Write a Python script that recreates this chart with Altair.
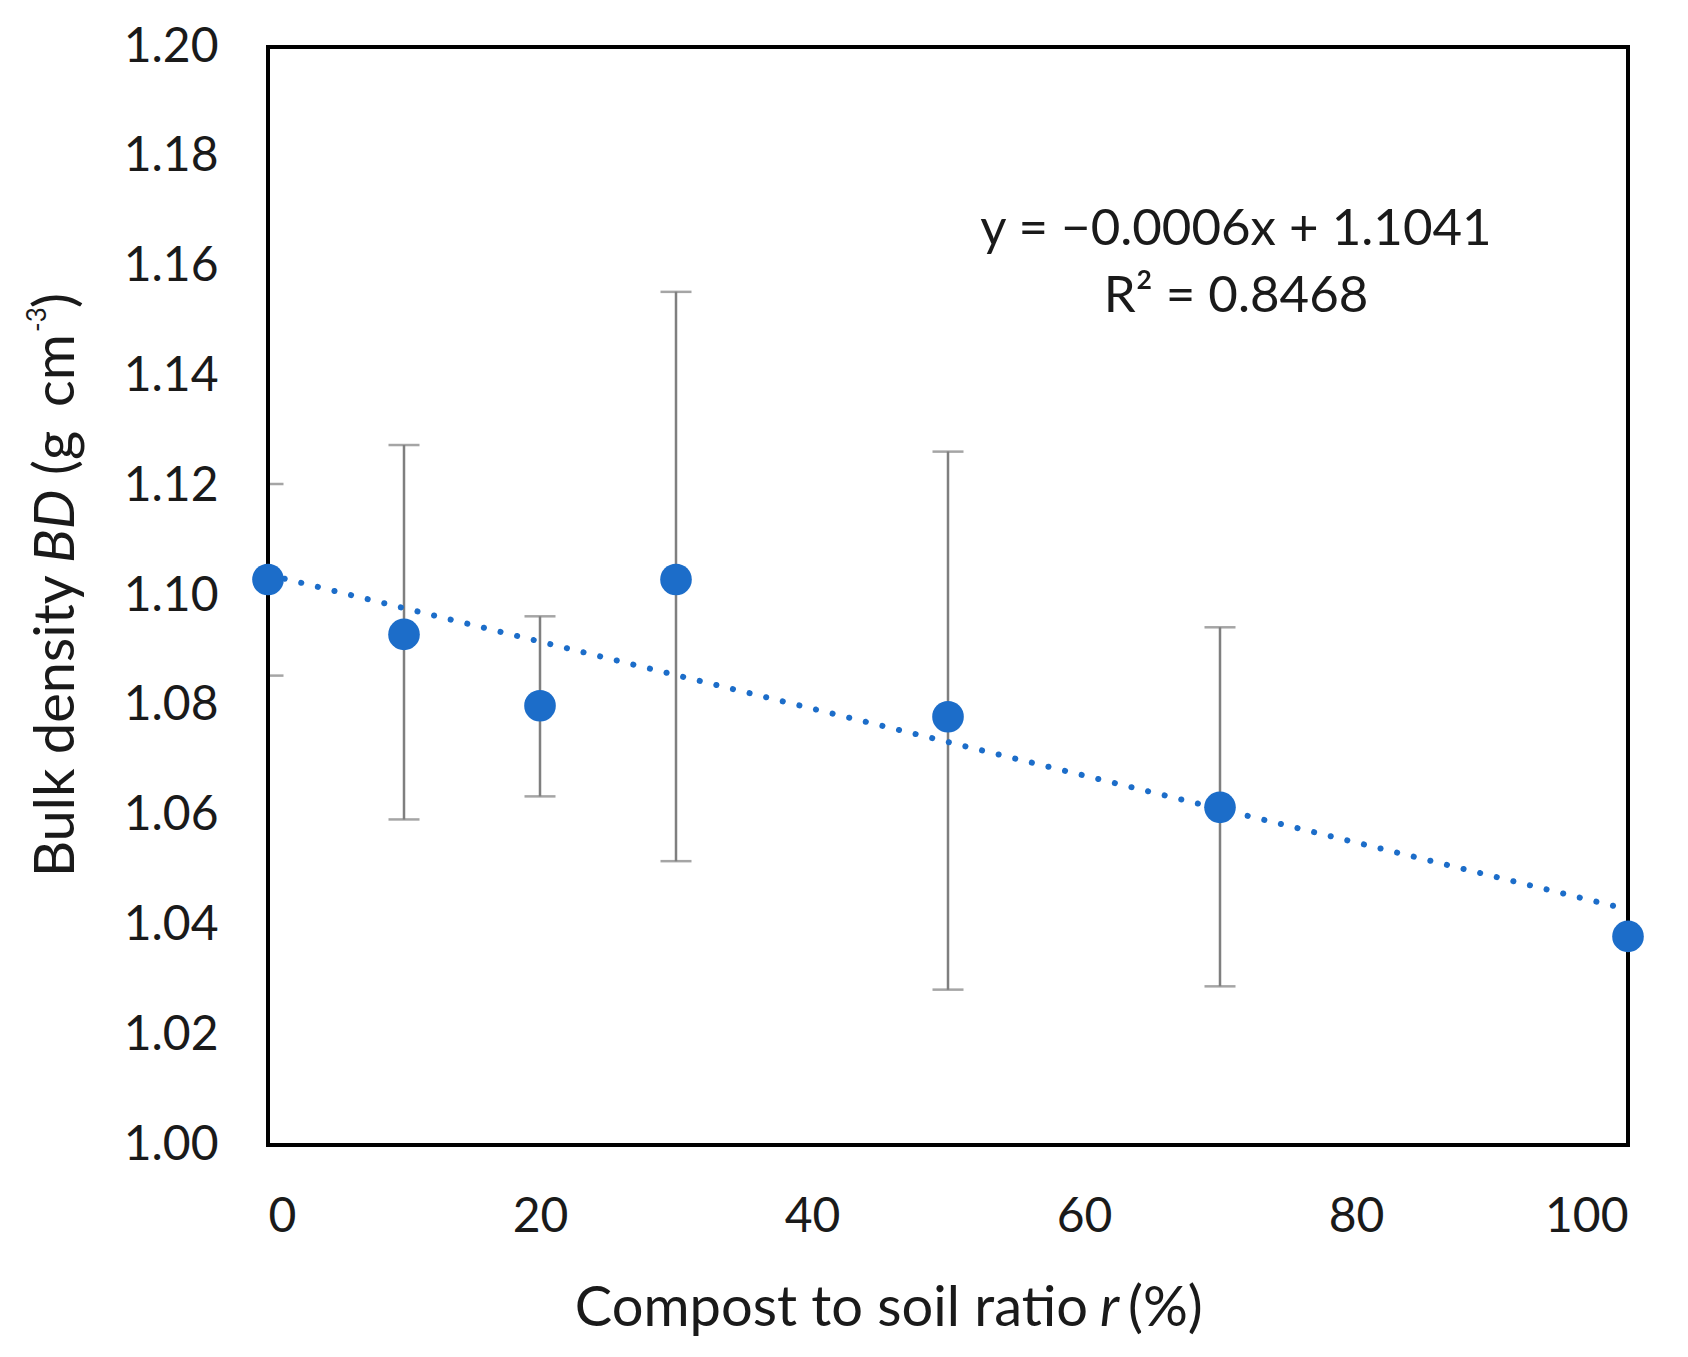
"""Bulk density vs compost-to-soil ratio, with error bars and a linear trend."""

import altair as alt
import pandas as pd

# values
ratio = [0, 10, 20, 30, 50, 70, 100]
bd = [1.103, 1.093, 1.080, 1.103, 1.078, 1.0615, 1.038]
bd_lo = [1.0855, 1.0593, 1.0635, 1.0517, 1.0283, 1.0289, 1.038]
bd_hi = [1.1204, 1.1275, 1.0963, 1.1554, 1.1263, 1.0943, 1.038]
x_ticks = [0, 20, 40, 60, 80, 100]
y_ticks = [1.00, 1.02, 1.04, 1.06, 1.08, 1.10, 1.12, 1.14, 1.16, 1.18, 1.20]

BLUE = "#1c6dc9"
GREY = "#7f7f7f"
FONT = "Lato"
W, H = 1360, 1098

df = pd.DataFrame({"ratio": ratio, "bd": bd, "lo": bd_lo, "hi": bd_hi})
err_df = df[df["hi"] > df["lo"]]

xs = alt.Scale(domain=[0, 100], nice=False)
ys = alt.Scale(domain=[1.0, 1.2], nice=False, zero=False)

x_enc = alt.X("ratio:Q", scale=xs, axis=alt.Axis(
    values=x_ticks, title=None, labelPadding=48, labelBaseline="top"))
y_enc = alt.Y("bd:Q", scale=ys, axis=alt.Axis(
    values=y_ticks, format=".2f", title=None, labelPadding=50))

errbars = alt.Chart(err_df).mark_errorbar(
    clip=True, color=GREY, size=31, thickness=2.5,
    ticks=True, rule=alt.MarkConfig(strokeWidth=2.5),
).encode(x=alt.X("ratio:Q", scale=xs), y=alt.Y("lo:Q", scale=ys), y2="hi:Q")

# left border drawn again so the clipped x=0 error bar sits under it
left_edge = alt.Chart(pd.DataFrame({"k": [0]})).mark_rule(
    color="black", strokeWidth=4).encode(
    x=alt.value(0), y=alt.value(0), y2=alt.value(H))

trend = alt.Chart(df).transform_regression(
    "ratio", "bd", extent=[0, 100]
).mark_line(color=BLUE, strokeWidth=6, strokeDash=[0.1, 17], strokeCap="round").encode(
    x=alt.X("ratio:Q", scale=xs), y=alt.Y("bd:Q", scale=ys))

points = alt.Chart(df).mark_circle(size=1000, color=BLUE, opacity=1).encode(
    x=x_enc, y=y_enc)


def label(text, x, y, size=51, style="normal", align="center", baseline="middle", angle=0):
    return alt.Chart(pd.DataFrame({"t": [text]})).mark_text(
        font=FONT, fontSize=size, fontStyle=style, align=align, baseline=baseline,
        angle=angle, color="#1a1a1a",
    ).encode(text="t:N", x=alt.value(x), y=alt.value(y))


equation = label("y = \u22120.0006x + 1.1041", 968, 183) + label("R\u00b2 = 0.8468", 968, 250)

# x title: "Compost to soil ratio r (%)" with italic r
x_title = (
    label("Compost to soil ratio", 820, 1279, size=56, align="right", baseline="alphabetic")
    + label("r", 832, 1279, size=56, style="italic", align="left", baseline="alphabetic")
    + label("(%)", 860, 1279, size=56, align="left", baseline="alphabetic")
)

# y title, rotated: "Bulk density BD (g cm-3)" with italic BD and superscript
YB = -194
YS = 56
y_title = (
    label("Bulk density", YB, 830, size=YS, align="left", baseline="alphabetic", angle=270)
    + label("BD", YB, 516, size=YS, style="italic", align="left", baseline="alphabetic", angle=270)
    + label("(g", YB, 428, size=YS, align="left", baseline="alphabetic", angle=270)
    + label("cm", YB, 360, size=YS, align="left", baseline="alphabetic", angle=270)
    + label("-3", YB - 28, 285, size=26, align="left", baseline="alphabetic", angle=270)
    + label(")", YB, 261, size=YS, align="left", baseline="alphabetic", angle=270)
)

chart = alt.layer(
    errbars, left_edge, trend, points, equation, x_title, y_title
).properties(
    width=W, height=H,
    autosize=alt.AutoSizeParams(type="none"),
    padding={"left": 260, "top": 39, "right": 52, "bottom": 204},
).configure_view(
    stroke="black", strokeWidth=4,
).configure_axis(
    labelFont=FONT, labelFontSize=48, labelColor="#1a1a1a",
    ticks=False, tickSize=0, grid=False, domain=False,
)

chart.save("out.html", embed_options={"renderer": "svg", "actions": False})
